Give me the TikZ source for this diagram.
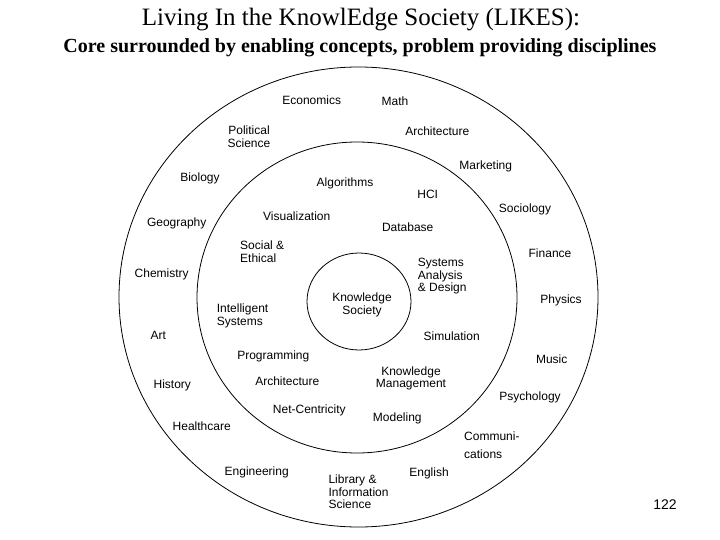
\documentclass[tikz,border=0pt]{standalone}
\usepackage{fontspec}
\setmainfont{Liberation Serif}
\newfontfamily\subjfont{Liberation Sans}
\usetikzlibrary{positioning}

\begin{document}
\begin{tikzpicture}[x=1pt, y=-1pt,
		ring/.style={draw=black, line width=0.8pt},
		subj/.style={font=\subjfont\fontsize{12}{12.5}\selectfont, inner sep=0pt, anchor=base},
		subjblock/.style={font=\subjfont\fontsize{12}{12.5}\selectfont, inner sep=0pt}]
					\useasboundingbox (0,0) rectangle (720,540);
					\def\orx{239.5}
					\def\ory{230}
					\def\mrx{160}
					\def\mry{155.5}
					\def\irx{52}
					\def\iry{48.5}

					% title
					\node[font=\fontsize{25}{28}\selectfont, anchor=base] (title) at (361, 26) {Living In the KnowlEdge Society (LIKES):};
					\node[font=\bfseries\fontsize{20}{24}\selectfont, anchor=base] (subtitle) at (360, 53) {Core surrounded by enabling concepts, problem providing disciplines};

					% rings
					\coordinate (outer c) at (358.5, 297);
					\coordinate (middle c) at (357, 297.5);
					\coordinate (inner c) at (359, 301.5);
					\draw [ring] (outer c) ellipse [x radius=\orx, y radius=\ory];
					\draw [ring] (middle c) ellipse [x radius=\mrx, y radius=\mry];
					\draw [ring] (inner c) ellipse [x radius=\irx, y radius=\iry];

					\node[subjblock, anchor=north, align=center] (core) at (362, 292.7) {Knowledge\\Society};

					% enabling concepts
					\node[subj] (algorithms) at (345, 186.8) {Algorithms};
					\node[subj] (hci) at (427.7, 198.1) {HCI};
					\node[subj] (visualization) at (296.7, 220.8) {Visualization};
					\node[subj] (database) at (407.7, 231.8) {Database};
					\node[subjblock, anchor=north west, align=left] (social) at (240, 240.8) {Social \&\\Ethical};
					\node[subjblock, anchor=north west, align=left] (sad) at (417.7, 258) {Systems\\Analysis\\\& Design};
					\node[subjblock, anchor=north west, align=left] (intelligent) at (216.7, 304) {Intelligent\\Systems};
					\node[subj] (simulation) at (451.7, 340.1) {Simulation};
					\node[subj] (programming) at (273.3, 359.1) {Programming};
					\node[subjblock, anchor=north, align=center] (km) at (411, 366.4) {Knowledge\\Management};
					\node[subj] (architecture in) at (287.3, 385.8) {Architecture};
					\node[subj] (netcentricity) at (309.3, 413.1) {Net-Centricity};
					\node[subj] (modeling) at (397.3, 421.8) {Modeling};

					% problem providing disciplines
					\node[subj] (economics) at (311.7, 104.8) {Economics};
					\node[subj] (math) at (395, 105.1) {Math};
					\node[subjblock, anchor=north, align=center] (polsci) at (249, 126) {Political\\Science};
					\node[subj] (architecture out) at (437.3, 135.1) {Architecture};
					\node[subj] (biology) at (200, 181.4) {Biology};
					\node[subj] (marketing) at (485.7, 169.8) {Marketing};
					\node[subj] (geography) at (176.7, 226.4) {Geography};
					\node[subj] (sociology) at (525, 212.4) {Sociology};
					\node[subj] (chemistry) at (161.7, 277.4) {Chemistry};
					\node[subj] (finance) at (550, 257.4) {Finance};
					\node[subj] (physics) at (561, 303.4) {Physics};
					\node[subj] (art) at (158.3, 339.8) {Art};
					\node[subj] (music) at (551.7, 363.1) {Music};
					\node[subj] (history) at (172.3, 388.1) {History};
					\node[subj] (psychology) at (530, 400.1) {Psychology};
					\node[subj] (healthcare) at (201.7, 430.8) {Healthcare};
					\node[subjblock, anchor=north west, align=left] (communications) at (464, 431.4) {Communi-\\[5.8pt]cations};
					\node[subj] (engineering) at (256.7, 475.1) {Engineering};
					\node[subj] (english) at (429, 476.8) {English};
					\node[subjblock, anchor=north west, align=left] (library) at (328.3, 475) {Library \&\\Information\\Science};

					\node[font=\subjfont\fontsize{14}{16}\selectfont, anchor=base] (page) at (665, 509) {122};
				\end{tikzpicture}
\end{document}
